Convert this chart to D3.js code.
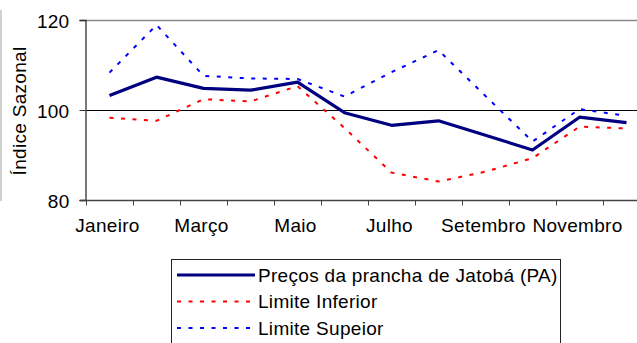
<!DOCTYPE html>
<html>
<head>
<meta charset="utf-8">
<script src="https://cdn.jsdelivr.net/npm/d3@7"></script>
<style>
  html, body { margin: 0; padding: 0; background: #fff; }
  svg { display: block; font-family: "Liberation Sans", Arial, sans-serif; letter-spacing: 0.3px; }
</style>
</head>
<body>
<script>
// Monthly seasonal index and its confidence limits
const months = ["Janeiro", "Fevereiro", "Março", "Abril", "Maio", "Junho",
                "Julho", "Agosto", "Setembro", "Outubro", "Novembro", "Dezembro"];
const precos   = [103.2, 107.3, 104.8, 104.4, 106.2, 99.4, 96.6, 97.6, 94.4, 91.1, 98.4, 97.2];
const inferior = [98.3, 97.6, 102.4, 101.9, 105.3, 96.0, 86.1, 84.1, 86.3, 89.3, 96.3, 95.9];
const superior = [108.3, 118.9, 107.6, 107.0, 106.9, 103.0, 108.4, 113.3, 103.1, 93.0, 100.2, 98.7];
const yTicks = [80, 100, 120];
const seriesNames = ["Preços da prancha de Jatobá (PA)", "Limite Inferior", "Limite Supeior"];

const W = 637, H = 343;
const plotLeft = 86, plotTop = 20, plotBottom = 200, step = 47;
const fontSize = 19;

const svg = d3.select("body").append("svg").attr("width", W).attr("height", H);

const x = d3.scaleBand().domain(months).range([plotLeft, plotLeft + step * months.length]).padding(0);
const y = d3.scaleLinear().domain([80, 120]).range([plotBottom, plotTop]);

// outer frame edge on the left
svg.append("line").attr("x1", 1).attr("x2", 1).attr("y1", 10).attr("y2", 201)
  .attr("stroke", "#b0b0b0").attr("stroke-width", 1.2);

// gridlines
svg.append("line").attr("x1", plotLeft - 6).attr("x2", W).attr("y1", y(120) + 0.5).attr("y2", y(120) + 0.5)
  .attr("stroke", "#8a8a8a").attr("stroke-width", 1.6);
svg.append("line").attr("x1", plotLeft).attr("x2", W).attr("y1", y(100) + 0.5).attr("y2", y(100) + 0.5)
  .attr("stroke", "#000").attr("stroke-width", 1);

// y axis
const yAxis = d3.axisLeft(y).tickValues(yTicks).tickSize(6).tickPadding(10).tickFormat(d3.format("d"));
const gy = svg.append("g").attr("transform", `translate(${plotLeft - 0.5},0)`).call(yAxis);
gy.select(".domain").attr("stroke", "#333").attr("stroke-width", 1.3);
gy.selectAll(".tick line").attr("stroke", "#333");
gy.selectAll(".tick text").attr("font-size", fontSize).attr("fill", "#000")
  .attr("font-family", "Liberation Sans, Arial, sans-serif").attr("dy", "0.38em");

// x axis: tick marks between categories, labels on every other month
const gx = svg.append("g").attr("transform", `translate(0,${plotBottom + 0.5})`);
gx.append("line").attr("x1", plotLeft - 6).attr("x2", W).attr("y1", 0).attr("y2", 0)
  .attr("stroke", "#444").attr("stroke-width", 1.3);
const bounds = months.map(m => x(m)).concat([x(months[months.length - 1]) + x.bandwidth()]);
gx.selectAll("line.tk").data(bounds).join("line").attr("class", "tk")
  .attr("x1", d => d + 0.5).attr("x2", d => d + 0.5).attr("y1", 0).attr("y2", 5)
  .attr("stroke", "#444").attr("stroke-width", 1);
gx.selectAll("text").data(months.filter((m, i) => i % 2 === 0)).join("text")
  .attr("x", d => x(d) + x.bandwidth() / 2 - 2).attr("y", 31.5)
  .attr("text-anchor", "middle").attr("font-size", fontSize).attr("fill", "#000").text(d => d);

// y axis title
svg.append("text").attr("transform", `translate(26,111) rotate(-90)`)
  .attr("text-anchor", "middle").attr("font-size", fontSize).attr("fill", "#000").text("Índice Sazonal");

// lines
const line = d3.line().x((d, i) => x(months[i]) + x.bandwidth() / 2).y(d => y(d));
const styles = [
  { data: precos, color: "#000080", width: 3.2, dash: null },
  { data: inferior, color: "#ff0000", width: 2, dash: "4,7.5" },
  { data: superior, color: "#0000ff", width: 2, dash: "4,7.5" }
];
// limits drawn first, price series on top
[styles[1], styles[2], styles[0]].forEach(s => {
  svg.append("path").datum(s.data).attr("d", line).attr("fill", "none")
    .attr("stroke", s.color).attr("stroke-width", s.width)
    .attr("stroke-dasharray", s.dash).attr("stroke-linejoin", "round");
});

// legend
const lg = svg.append("g");
lg.append("rect").attr("x", 171.5).attr("y", 259.5).attr("width", 389).attr("height", 100)
  .attr("fill", "#fff").attr("stroke", "#222").attr("stroke-width", 1);
const rowY = [275, 301.5, 328];
seriesNames.forEach((name, i) => {
  const s = styles[i];
  lg.append("line").attr("x1", 177).attr("x2", 255).attr("y1", rowY[i]).attr("y2", rowY[i])
    .attr("stroke", s.color).attr("stroke-width", s.width).attr("stroke-dasharray", s.dash);
  lg.append("text").attr("x", 258).attr("y", rowY[i]).attr("dy", "0.36em")
    .attr("font-size", fontSize).attr("fill", "#000").text(name);
});
</script>
</body>
</html>
